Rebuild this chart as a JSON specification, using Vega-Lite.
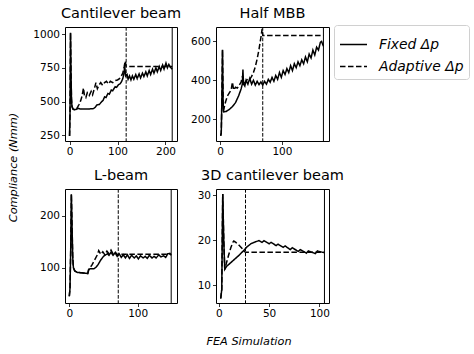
{
"$schema": "https://vega.github.io/schema/vega-lite/v6.json",
"padding": {"left": 6, "top": 5, "right": 0, "bottom": 0},
"background": "white",
"config": {
  "font": "DejaVu Sans",
  "view": {"stroke": "black", "strokeWidth": 1},
  "axis": {"domain": false, "grid": false, "tickColor": "black", "tickSize": 3.5, "tickWidth": 0.8, "labelFont": "DejaVu Sans", "labelFontSize": 10.5, "labelColor": "black", "labelPadding": 2, "titleFont": "DejaVu Sans", "titleColor": "black", "titleFontWeight": "normal", "format": "d"},
  "title": {"font": "DejaVu Sans", "fontSize": 14.5, "fontWeight": "normal", "color": "black", "anchor": "middle", "frame": "group", "offset": 5},
  "legend": {"strokeColor": "#d0d0d0", "cornerRadius": 3, "padding": 5, "fillColor": "white", "labelFont": "DejaVu Sans", "labelFontStyle": "italic", "labelFontSize": 13.9, "labelColor": "black", "symbolStrokeColor": "black", "symbolStrokeWidth": 1.5, "symbolSize": 729, "symbolType": "stroke", "rowPadding": -5, "labelOffset": 11}
},
"datasets": {
  "p1": [
    {"x":0,"y":245,"s":"Fixed Δp"},{"x":1,"y":420,"s":"Fixed Δp"},{"x":2,"y":1010,"s":"Fixed Δp"},{"x":3,"y":720,"s":"Fixed Δp"},{"x":4,"y":520,"s":"Fixed Δp"},{"x":5,"y":465,"s":"Fixed Δp"},{"x":7,"y":445,"s":"Fixed Δp"},{"x":10,"y":440,"s":"Fixed Δp"},{"x":14,"y":442,"s":"Fixed Δp"},{"x":18,"y":450,"s":"Fixed Δp"},{"x":22,"y":445,"s":"Fixed Δp"},{"x":30,"y":445,"s":"Fixed Δp"},{"x":40,"y":445,"s":"Fixed Δp"},{"x":50,"y":448,"s":"Fixed Δp"},{"x":54,"y":460,"s":"Fixed Δp"},{"x":57,"y":475,"s":"Fixed Δp"},{"x":62,"y":478,"s":"Fixed Δp"},{"x":66,"y":495,"s":"Fixed Δp"},{"x":70,"y":510,"s":"Fixed Δp"},{"x":73,"y":535,"s":"Fixed Δp"},{"x":76,"y":530,"s":"Fixed Δp"},{"x":80,"y":560,"s":"Fixed Δp"},{"x":83,"y":555,"s":"Fixed Δp"},{"x":87,"y":585,"s":"Fixed Δp"},{"x":90,"y":580,"s":"Fixed Δp"},{"x":95,"y":610,"s":"Fixed Δp"},{"x":98,"y":605,"s":"Fixed Δp"},{"x":102,"y":625,"s":"Fixed Δp"},{"x":105,"y":630,"s":"Fixed Δp"},{"x":108,"y":645,"s":"Fixed Δp"},{"x":111,"y":670,"s":"Fixed Δp"},{"x":113,"y":700,"s":"Fixed Δp"},{"x":115,"y":760,"s":"Fixed Δp"},{"x":117,"y":690,"s":"Fixed Δp"},{"x":120,"y":700,"s":"Fixed Δp"},{"x":122,"y":665,"s":"Fixed Δp"},{"x":125,"y":690,"s":"Fixed Δp"},{"x":128,"y":660,"s":"Fixed Δp"},{"x":131,"y":690,"s":"Fixed Δp"},{"x":134,"y":665,"s":"Fixed Δp"},{"x":138,"y":700,"s":"Fixed Δp"},{"x":141,"y":670,"s":"Fixed Δp"},{"x":145,"y":705,"s":"Fixed Δp"},{"x":148,"y":675,"s":"Fixed Δp"},{"x":152,"y":710,"s":"Fixed Δp"},{"x":155,"y":685,"s":"Fixed Δp"},{"x":159,"y":720,"s":"Fixed Δp"},{"x":162,"y":690,"s":"Fixed Δp"},{"x":166,"y":730,"s":"Fixed Δp"},{"x":169,"y":700,"s":"Fixed Δp"},{"x":173,"y":740,"s":"Fixed Δp"},{"x":176,"y":710,"s":"Fixed Δp"},{"x":180,"y":750,"s":"Fixed Δp"},{"x":183,"y":720,"s":"Fixed Δp"},{"x":187,"y":760,"s":"Fixed Δp"},{"x":190,"y":730,"s":"Fixed Δp"},{"x":194,"y":770,"s":"Fixed Δp"},{"x":197,"y":740,"s":"Fixed Δp"},{"x":201,"y":785,"s":"Fixed Δp"},{"x":204,"y":750,"s":"Fixed Δp"},{"x":207,"y":775,"s":"Fixed Δp"},{"x":210,"y":755,"s":"Fixed Δp"},{"x":214,"y":740,"s":"Fixed Δp"},
    {"x":0,"y":245,"s":"Adaptive Δp"},{"x":1,"y":420,"s":"Adaptive Δp"},{"x":2,"y":1010,"s":"Adaptive Δp"},{"x":3,"y":720,"s":"Adaptive Δp"},{"x":4,"y":520,"s":"Adaptive Δp"},{"x":5,"y":465,"s":"Adaptive Δp"},{"x":7,"y":445,"s":"Adaptive Δp"},{"x":10,"y":440,"s":"Adaptive Δp"},{"x":14,"y":442,"s":"Adaptive Δp"},{"x":17,"y":460,"s":"Adaptive Δp"},{"x":20,"y":480,"s":"Adaptive Δp"},{"x":23,"y":505,"s":"Adaptive Δp"},{"x":26,"y":540,"s":"Adaptive Δp"},{"x":29,"y":600,"s":"Adaptive Δp"},{"x":31,"y":545,"s":"Adaptive Δp"},{"x":34,"y":530,"s":"Adaptive Δp"},{"x":37,"y":565,"s":"Adaptive Δp"},{"x":41,"y":545,"s":"Adaptive Δp"},{"x":45,"y":575,"s":"Adaptive Δp"},{"x":48,"y":550,"s":"Adaptive Δp"},{"x":52,"y":600,"s":"Adaptive Δp"},{"x":55,"y":640,"s":"Adaptive Δp"},{"x":58,"y":595,"s":"Adaptive Δp"},{"x":62,"y":625,"s":"Adaptive Δp"},{"x":65,"y":640,"s":"Adaptive Δp"},{"x":69,"y":620,"s":"Adaptive Δp"},{"x":73,"y":640,"s":"Adaptive Δp"},{"x":77,"y":650,"s":"Adaptive Δp"},{"x":81,"y":630,"s":"Adaptive Δp"},{"x":85,"y":650,"s":"Adaptive Δp"},{"x":90,"y":640,"s":"Adaptive Δp"},{"x":95,"y":655,"s":"Adaptive Δp"},{"x":100,"y":660,"s":"Adaptive Δp"},{"x":104,"y":670,"s":"Adaptive Δp"},{"x":108,"y":690,"s":"Adaptive Δp"},{"x":111,"y":710,"s":"Adaptive Δp"},{"x":114,"y":760,"s":"Adaptive Δp"},{"x":116,"y":800,"s":"Adaptive Δp"},{"x":118,"y":760,"s":"Adaptive Δp"},{"x":214,"y":760,"s":"Adaptive Δp"}
  ],
  "p2": [
    {"x":1,"y":115,"s":"Fixed Δp"},{"x":2,"y":130,"s":"Fixed Δp"},{"x":3,"y":300,"s":"Fixed Δp"},{"x":4,"y":557,"s":"Fixed Δp"},{"x":5,"y":280,"s":"Fixed Δp"},{"x":6,"y":238,"s":"Fixed Δp"},{"x":10,"y":240,"s":"Fixed Δp"},{"x":15,"y":250,"s":"Fixed Δp"},{"x":20,"y":265,"s":"Fixed Δp"},{"x":25,"y":285,"s":"Fixed Δp"},{"x":30,"y":320,"s":"Fixed Δp"},{"x":34,"y":355,"s":"Fixed Δp"},{"x":36,"y":380,"s":"Fixed Δp"},{"x":37,"y":455,"s":"Fixed Δp"},{"x":38,"y":380,"s":"Fixed Δp"},{"x":40,"y":370,"s":"Fixed Δp"},{"x":42,"y":400,"s":"Fixed Δp"},{"x":45,"y":380,"s":"Fixed Δp"},{"x":48,"y":410,"s":"Fixed Δp"},{"x":51,"y":380,"s":"Fixed Δp"},{"x":54,"y":400,"s":"Fixed Δp"},{"x":57,"y":375,"s":"Fixed Δp"},{"x":60,"y":395,"s":"Fixed Δp"},{"x":63,"y":378,"s":"Fixed Δp"},{"x":66,"y":392,"s":"Fixed Δp"},{"x":69,"y":375,"s":"Fixed Δp"},{"x":72,"y":395,"s":"Fixed Δp"},{"x":75,"y":380,"s":"Fixed Δp"},{"x":78,"y":405,"s":"Fixed Δp"},{"x":81,"y":390,"s":"Fixed Δp"},{"x":84,"y":415,"s":"Fixed Δp"},{"x":87,"y":395,"s":"Fixed Δp"},{"x":90,"y":425,"s":"Fixed Δp"},{"x":93,"y":405,"s":"Fixed Δp"},{"x":96,"y":440,"s":"Fixed Δp"},{"x":99,"y":415,"s":"Fixed Δp"},{"x":102,"y":450,"s":"Fixed Δp"},{"x":105,"y":430,"s":"Fixed Δp"},{"x":108,"y":460,"s":"Fixed Δp"},{"x":111,"y":440,"s":"Fixed Δp"},{"x":114,"y":475,"s":"Fixed Δp"},{"x":117,"y":450,"s":"Fixed Δp"},{"x":120,"y":485,"s":"Fixed Δp"},{"x":123,"y":465,"s":"Fixed Δp"},{"x":126,"y":495,"s":"Fixed Δp"},{"x":129,"y":475,"s":"Fixed Δp"},{"x":132,"y":505,"s":"Fixed Δp"},{"x":135,"y":485,"s":"Fixed Δp"},{"x":138,"y":520,"s":"Fixed Δp"},{"x":141,"y":495,"s":"Fixed Δp"},{"x":144,"y":535,"s":"Fixed Δp"},{"x":147,"y":515,"s":"Fixed Δp"},{"x":150,"y":555,"s":"Fixed Δp"},{"x":153,"y":530,"s":"Fixed Δp"},{"x":156,"y":570,"s":"Fixed Δp"},{"x":159,"y":555,"s":"Fixed Δp"},{"x":162,"y":595,"s":"Fixed Δp"},{"x":164,"y":600,"s":"Fixed Δp"},{"x":167,"y":575,"s":"Fixed Δp"},
    {"x":1,"y":115,"s":"Adaptive Δp"},{"x":2,"y":130,"s":"Adaptive Δp"},{"x":3,"y":300,"s":"Adaptive Δp"},{"x":4,"y":557,"s":"Adaptive Δp"},{"x":5,"y":280,"s":"Adaptive Δp"},{"x":6,"y":250,"s":"Adaptive Δp"},{"x":9,"y":290,"s":"Adaptive Δp"},{"x":12,"y":320,"s":"Adaptive Δp"},{"x":15,"y":335,"s":"Adaptive Δp"},{"x":18,"y":350,"s":"Adaptive Δp"},{"x":20,"y":390,"s":"Adaptive Δp"},{"x":22,"y":350,"s":"Adaptive Δp"},{"x":25,"y":365,"s":"Adaptive Δp"},{"x":28,"y":360,"s":"Adaptive Δp"},{"x":31,"y":375,"s":"Adaptive Δp"},{"x":34,"y":390,"s":"Adaptive Δp"},{"x":36,"y":420,"s":"Adaptive Δp"},{"x":39,"y":385,"s":"Adaptive Δp"},{"x":42,"y":395,"s":"Adaptive Δp"},{"x":45,"y":410,"s":"Adaptive Δp"},{"x":48,"y":405,"s":"Adaptive Δp"},{"x":51,"y":420,"s":"Adaptive Δp"},{"x":54,"y":440,"s":"Adaptive Δp"},{"x":57,"y":470,"s":"Adaptive Δp"},{"x":60,"y":510,"s":"Adaptive Δp"},{"x":63,"y":560,"s":"Adaptive Δp"},{"x":66,"y":620,"s":"Adaptive Δp"},{"x":68,"y":665,"s":"Adaptive Δp"},{"x":69,"y":630,"s":"Adaptive Δp"},{"x":167,"y":630,"s":"Adaptive Δp"}
  ],
  "p3": [
    {"x":0,"y":45,"s":"Fixed Δp"},{"x":1,"y":60,"s":"Fixed Δp"},{"x":2,"y":130,"s":"Fixed Δp"},{"x":3,"y":242,"s":"Fixed Δp"},{"x":4,"y":180,"s":"Fixed Δp"},{"x":5,"y":120,"s":"Fixed Δp"},{"x":6,"y":100,"s":"Fixed Δp"},{"x":8,"y":94,"s":"Fixed Δp"},{"x":12,"y":91,"s":"Fixed Δp"},{"x":20,"y":90,"s":"Fixed Δp"},{"x":27,"y":89,"s":"Fixed Δp"},{"x":28,"y":96,"s":"Fixed Δp"},{"x":30,"y":98,"s":"Fixed Δp"},{"x":36,"y":98,"s":"Fixed Δp"},{"x":39,"y":101,"s":"Fixed Δp"},{"x":42,"y":106,"s":"Fixed Δp"},{"x":46,"y":115,"s":"Fixed Δp"},{"x":50,"y":122,"s":"Fixed Δp"},{"x":53,"y":125,"s":"Fixed Δp"},{"x":56,"y":127,"s":"Fixed Δp"},{"x":58,"y":124,"s":"Fixed Δp"},{"x":61,"y":130,"s":"Fixed Δp"},{"x":64,"y":124,"s":"Fixed Δp"},{"x":67,"y":129,"s":"Fixed Δp"},{"x":70,"y":122,"s":"Fixed Δp"},{"x":73,"y":127,"s":"Fixed Δp"},{"x":76,"y":120,"s":"Fixed Δp"},{"x":79,"y":125,"s":"Fixed Δp"},{"x":82,"y":119,"s":"Fixed Δp"},{"x":85,"y":125,"s":"Fixed Δp"},{"x":88,"y":118,"s":"Fixed Δp"},{"x":91,"y":124,"s":"Fixed Δp"},{"x":95,"y":119,"s":"Fixed Δp"},{"x":98,"y":123,"s":"Fixed Δp"},{"x":101,"y":117,"s":"Fixed Δp"},{"x":104,"y":123,"s":"Fixed Δp"},{"x":108,"y":119,"s":"Fixed Δp"},{"x":111,"y":122,"s":"Fixed Δp"},{"x":114,"y":118,"s":"Fixed Δp"},{"x":117,"y":124,"s":"Fixed Δp"},{"x":121,"y":119,"s":"Fixed Δp"},{"x":124,"y":122,"s":"Fixed Δp"},{"x":127,"y":119,"s":"Fixed Δp"},{"x":131,"y":125,"s":"Fixed Δp"},{"x":134,"y":121,"s":"Fixed Δp"},{"x":138,"y":123,"s":"Fixed Δp"},{"x":141,"y":120,"s":"Fixed Δp"},{"x":144,"y":127,"s":"Fixed Δp"},{"x":147,"y":128,"s":"Fixed Δp"},{"x":149,"y":124,"s":"Fixed Δp"},
    {"x":0,"y":45,"s":"Adaptive Δp"},{"x":1,"y":60,"s":"Adaptive Δp"},{"x":2,"y":130,"s":"Adaptive Δp"},{"x":3,"y":242,"s":"Adaptive Δp"},{"x":4,"y":180,"s":"Adaptive Δp"},{"x":5,"y":120,"s":"Adaptive Δp"},{"x":6,"y":100,"s":"Adaptive Δp"},{"x":8,"y":94,"s":"Adaptive Δp"},{"x":12,"y":91,"s":"Adaptive Δp"},{"x":20,"y":90,"s":"Adaptive Δp"},{"x":27,"y":89,"s":"Adaptive Δp"},{"x":29,"y":98,"s":"Adaptive Δp"},{"x":33,"y":105,"s":"Adaptive Δp"},{"x":37,"y":115,"s":"Adaptive Δp"},{"x":41,"y":125,"s":"Adaptive Δp"},{"x":43,"y":133,"s":"Adaptive Δp"},{"x":46,"y":126,"s":"Adaptive Δp"},{"x":49,"y":131,"s":"Adaptive Δp"},{"x":52,"y":125,"s":"Adaptive Δp"},{"x":55,"y":132,"s":"Adaptive Δp"},{"x":58,"y":127,"s":"Adaptive Δp"},{"x":61,"y":134,"s":"Adaptive Δp"},{"x":64,"y":127,"s":"Adaptive Δp"},{"x":67,"y":131,"s":"Adaptive Δp"},{"x":70,"y":125,"s":"Adaptive Δp"},{"x":72,"y":126,"s":"Adaptive Δp"},{"x":149,"y":126,"s":"Adaptive Δp"}
  ],
  "p4": [
    {"x":2,"y":7,"s":"Fixed Δp"},{"x":3,"y":9,"s":"Fixed Δp"},{"x":4,"y":30.3,"s":"Fixed Δp"},{"x":5,"y":20,"s":"Fixed Δp"},{"x":6,"y":13.5,"s":"Fixed Δp"},{"x":8,"y":14.2,"s":"Fixed Δp"},{"x":12,"y":15,"s":"Fixed Δp"},{"x":16,"y":15.8,"s":"Fixed Δp"},{"x":20,"y":16.6,"s":"Fixed Δp"},{"x":24,"y":17.5,"s":"Fixed Δp"},{"x":28,"y":18.5,"s":"Fixed Δp"},{"x":32,"y":19.2,"s":"Fixed Δp"},{"x":36,"y":19.6,"s":"Fixed Δp"},{"x":40,"y":19.9,"s":"Fixed Δp"},{"x":43,"y":19.5,"s":"Fixed Δp"},{"x":45,"y":19.9,"s":"Fixed Δp"},{"x":50,"y":19.2,"s":"Fixed Δp"},{"x":52,"y":19.5,"s":"Fixed Δp"},{"x":57,"y":18.8,"s":"Fixed Δp"},{"x":59,"y":19.1,"s":"Fixed Δp"},{"x":64,"y":18.4,"s":"Fixed Δp"},{"x":66,"y":18.7,"s":"Fixed Δp"},{"x":71,"y":17.9,"s":"Fixed Δp"},{"x":73,"y":18.3,"s":"Fixed Δp"},{"x":79,"y":17.5,"s":"Fixed Δp"},{"x":81,"y":17.9,"s":"Fixed Δp"},{"x":87,"y":17.1,"s":"Fixed Δp"},{"x":89,"y":17.6,"s":"Fixed Δp"},{"x":96,"y":17.0,"s":"Fixed Δp"},{"x":98,"y":17.6,"s":"Fixed Δp"},{"x":103,"y":17.3,"s":"Fixed Δp"},{"x":105,"y":17.2,"s":"Fixed Δp"},
    {"x":2,"y":7,"s":"Adaptive Δp"},{"x":3,"y":9,"s":"Adaptive Δp"},{"x":4,"y":30.3,"s":"Adaptive Δp"},{"x":5,"y":20,"s":"Adaptive Δp"},{"x":6,"y":13.5,"s":"Adaptive Δp"},{"x":8,"y":15.2,"s":"Adaptive Δp"},{"x":10,"y":16.8,"s":"Adaptive Δp"},{"x":12,"y":18.3,"s":"Adaptive Δp"},{"x":14,"y":19.5,"s":"Adaptive Δp"},{"x":15,"y":19.8,"s":"Adaptive Δp"},{"x":17,"y":19.5,"s":"Adaptive Δp"},{"x":20,"y":18.9,"s":"Adaptive Δp"},{"x":23,"y":18.2,"s":"Adaptive Δp"},{"x":26,"y":17.4,"s":"Adaptive Δp"},{"x":27,"y":17.3,"s":"Adaptive Δp"},{"x":105,"y":17.3,"s":"Adaptive Δp"}
  ],
  "v1": [{"x":118,"k":"a"},{"x":214,"k":"f"}],
  "v2": [{"x":69,"k":"a"},{"x":167,"k":"f"}],
  "v3": [{"x":71.6,"k":"a"},{"x":149,"k":"f"}],
  "v4": [{"x":26.6,"k":"a"},{"x":105,"k":"f"}]
},
"columns": 2,
"spacing": {"row": 48, "column": 39},
"bounds": "flush",
"concat": [
  {"width": 112, "height": 114, "title": "Cantilever beam",
   "layer": [
    {"data": {"name": "p1"}, "mark": {"type": "line", "color": "black", "strokeWidth": 1.5, "clip": true},
     "encoding": {
      "x": {"field": "x", "type": "quantitative", "scale": {"domain": [-9.5, 224], "nice": false, "zero": false}, "axis": {"values": [0, 100, 200], "title": null}},
      "y": {"field": "y", "type": "quantitative", "scale": {"domain": [208, 1052], "nice": false, "zero": false}, "axis": {"values": [250, 500, 750, 1000], "title": "Compliance (Nmm)", "titleX": -52, "titleY": 140, "titleAngle": -90, "titleAlign": "center", "titleBaseline": "middle", "titleFontStyle": "italic", "titleFontSize": 11.3}},
      "strokeDash": {"field": "s", "type": "nominal", "scale": {"domain": ["Fixed Δp", "Adaptive Δp"], "range": [[1, 0], [5.5, 2.5]]}, "legend": {"orient": "none", "legendX": 269, "legendY": -2, "title": null}}}},
    {"data": {"name": "v1"}, "transform": [{"filter": "datum.k == 'a'"}], "mark": {"type": "rule", "color": "black", "strokeWidth": 1, "strokeDash": [3.7, 1.6]}, "encoding": {"x": {"field": "x", "type": "quantitative"}}},
    {"data": {"name": "v1"}, "transform": [{"filter": "datum.k == 'f'"}], "mark": {"type": "rule", "color": "black", "strokeWidth": 1}, "encoding": {"x": {"field": "x", "type": "quantitative"}}}
   ]},
  {"width": 113, "height": 114, "title": "Half MBB",
   "layer": [
    {"data": {"name": "p2"}, "mark": {"type": "line", "color": "black", "strokeWidth": 1.5, "clip": true},
     "encoding": {
      "x": {"field": "x", "type": "quantitative", "scale": {"domain": [-6.5, 176], "nice": false, "zero": false}, "axis": {"values": [0, 100], "title": null}},
      "y": {"field": "y", "type": "quantitative", "scale": {"domain": [88, 674], "nice": false, "zero": false}, "axis": {"values": [200, 400, 600], "title": null}},
      "strokeDash": {"field": "s", "type": "nominal", "scale": {"domain": ["Fixed Δp", "Adaptive Δp"], "range": [[1, 0], [5.5, 2.5]]}}}},
    {"data": {"name": "v2"}, "transform": [{"filter": "datum.k == 'a'"}], "mark": {"type": "rule", "color": "black", "strokeWidth": 1, "strokeDash": [3.7, 1.6]}, "encoding": {"x": {"field": "x", "type": "quantitative"}}},
    {"data": {"name": "v2"}, "transform": [{"filter": "datum.k == 'f'"}], "mark": {"type": "rule", "color": "black", "strokeWidth": 1}, "encoding": {"x": {"field": "x", "type": "quantitative"}}}
   ]},
  {"width": 112, "height": 114, "title": "L-beam",
   "layer": [
    {"data": {"name": "p3"}, "mark": {"type": "line", "color": "black", "strokeWidth": 1.5, "clip": true},
     "encoding": {
      "x": {"field": "x", "type": "quantitative", "scale": {"domain": [-6.3, 157.5], "nice": false, "zero": false}, "axis": {"values": [0, 100], "title": "FEA Simulation", "titleX": 183.5, "titleY": 38, "titleAlign": "center", "titleBaseline": "middle", "titleFontStyle": "italic", "titleFontSize": 11.3}},
      "y": {"field": "y", "type": "quantitative", "scale": {"domain": [32, 252], "nice": false, "zero": false}, "axis": {"values": [100, 200], "title": null}},
      "strokeDash": {"field": "s", "type": "nominal", "scale": {"domain": ["Fixed Δp", "Adaptive Δp"], "range": [[1, 0], [5.5, 2.5]]}}}},
    {"data": {"name": "v3"}, "transform": [{"filter": "datum.k == 'a'"}], "mark": {"type": "rule", "color": "black", "strokeWidth": 1, "strokeDash": [3.7, 1.6]}, "encoding": {"x": {"field": "x", "type": "quantitative"}}},
    {"data": {"name": "v3"}, "transform": [{"filter": "datum.k == 'f'"}], "mark": {"type": "rule", "color": "black", "strokeWidth": 1}, "encoding": {"x": {"field": "x", "type": "quantitative"}}}
   ]},
  {"width": 113, "height": 114, "title": "3D cantilever beam",
   "layer": [
    {"data": {"name": "p4"}, "mark": {"type": "line", "color": "black", "strokeWidth": 1.5, "clip": true},
     "encoding": {
      "x": {"field": "x", "type": "quantitative", "scale": {"domain": [-2.7, 109.5], "nice": false, "zero": false}, "axis": {"values": [0, 50, 100], "title": null}},
      "y": {"field": "y", "type": "quantitative", "scale": {"domain": [6, 31.4], "nice": false, "zero": false}, "axis": {"values": [10, 20, 30], "title": null}},
      "strokeDash": {"field": "s", "type": "nominal", "scale": {"domain": ["Fixed Δp", "Adaptive Δp"], "range": [[1, 0], [5.5, 2.5]]}}}},
    {"data": {"name": "v4"}, "transform": [{"filter": "datum.k == 'a'"}], "mark": {"type": "rule", "color": "black", "strokeWidth": 1, "strokeDash": [3.7, 1.6]}, "encoding": {"x": {"field": "x", "type": "quantitative"}}},
    {"data": {"name": "v4"}, "transform": [{"filter": "datum.k == 'f'"}], "mark": {"type": "rule", "color": "black", "strokeWidth": 1}, "encoding": {"x": {"field": "x", "type": "quantitative"}}}
   ]}
]
}
